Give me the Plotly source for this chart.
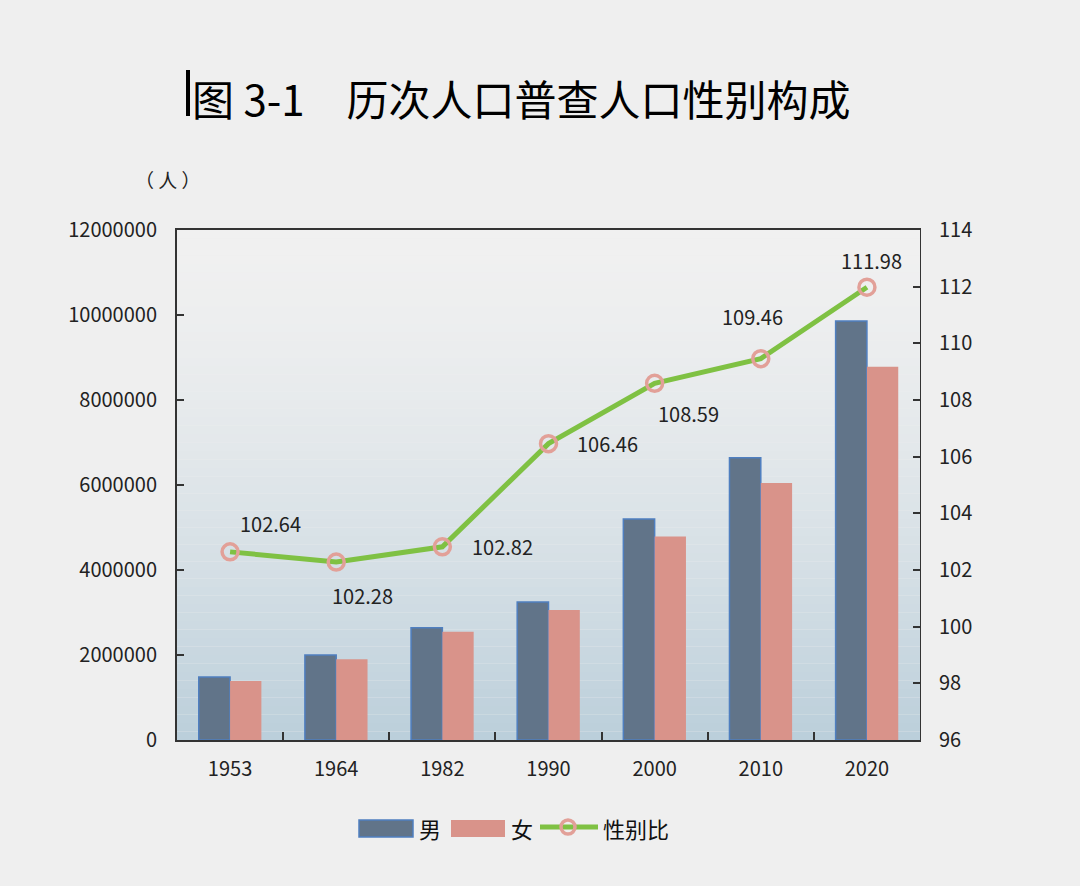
import plotly.graph_objects as go

years = ["1953", "1964", "1982", "1990", "2000", "2010", "2020"]
male = [1480000, 2000000, 2640000, 3250000, 5200000, 6640000, 9860000]
female = [1390000, 1900000, 2550000, 3060000, 4790000, 6050000, 8780000]
sex_ratio = [102.64, 102.28, 102.82, 106.46, 108.59, 109.46, 111.98]
series_names = ["男", "女", "性别比"]
label_offsets = [(40, 28), (26, -33), (60, 0), (59, 0), (34, -30), (-8, 42), (5, 27)]

FONT = "Noto Sans CJK SC"
MALE_C = "#617489"
MALE_EDGE = "#4f7fc0"
FEMALE_C = "#d9938a"
LINE_C = "#7fc143"
MARK_C = "#e2a098"

# plot area in px
L, R, T, B = 177, 920, 230, 740
def px(x):
    return (x - L) / (R - L)
def py(y):
    return (B - y) / (B - T)

fig = go.Figure()
fig.add_trace(go.Bar(x=years, y=male, name=series_names[0], marker=dict(color=MALE_C, line=dict(color=MALE_EDGE, width=1.5))))
fig.add_trace(go.Bar(x=years, y=female, name=series_names[1], marker=dict(color=FEMALE_C, line=dict(width=0))))
fig.add_trace(go.Scatter(x=years, y=sex_ratio, name=series_names[2], yaxis="y2", mode="lines+markers",
                         line=dict(color=LINE_C, width=5),
                         marker=dict(symbol="circle-open", size=16, color=MARK_C, line=dict(width=3.5, color=MARK_C))))

for i, (v, (dx, dy)) in enumerate(zip(sex_ratio, label_offsets)):
    fig.add_annotation(x=i, y=v, xref="x", yref="y2", text=f"{v:.2f}", showarrow=False,
                       xshift=dx, yshift=dy, font=dict(family=FONT, size=20, color="#222"))

# gradient background bands
n = 60
top = (240, 240, 240)
bot = (186, 206, 218)
for i in range(n):
    t = i / n
    f = t ** 1.6
    c = tuple(int(round(top[k] + (bot[k] - top[k]) * f)) for k in range(3))
    fig.add_shape(type="rect", xref="paper", yref="paper", x0=0, x1=1,
                  y0=1 - (i + 1) / n, y1=1 - i / n, fillcolor="rgb(%d,%d,%d)" % c,
                  line=dict(width=0), layer="below")

# title marker bar
fig.add_shape(type="line", xref="paper", yref="paper", x0=px(188), x1=px(188),
              y0=py(70), y1=py(116), line=dict(color="black", width=4))

fig.add_annotation(xref="paper", yref="paper", x=px(190), y=py(97), xanchor="left", yanchor="middle",
                   text="图 3-1　历次人口普查人口性别构成", showarrow=False,
                   font=dict(family=FONT, size=42, color="black"))
fig.add_annotation(xref="paper", yref="paper", x=px(168), y=py(180), xanchor="center", yanchor="middle",
                   text="（ 人 ）", showarrow=False, font=dict(family=FONT, size=19, color="#222"))

# manual legend
ly = py(828)
fig.add_shape(type="rect", xref="paper", yref="paper", x0=px(359), x1=px(413), y0=py(837), y1=py(820),
              fillcolor=MALE_C, line=dict(color=MALE_EDGE, width=1.5))
fig.add_annotation(xref="paper", yref="paper", x=px(417), y=ly, xanchor="left", yanchor="middle", showarrow=False,
                   text=series_names[0], font=dict(family=FONT, size=22, color="#111"))
fig.add_shape(type="rect", xref="paper", yref="paper", x0=px(451), x1=px(505), y0=py(837), y1=py(820),
              fillcolor=FEMALE_C, line=dict(width=0))
fig.add_annotation(xref="paper", yref="paper", x=px(509), y=ly, xanchor="left", yanchor="middle", showarrow=False,
                   text=series_names[1], font=dict(family=FONT, size=22, color="#111"))
fig.add_shape(type="line", xref="paper", yref="paper", x0=px(540), x1=px(598), y0=py(827), y1=py(827),
              line=dict(color=LINE_C, width=5))
fig.add_shape(type="circle", xref="paper", yref="paper", xsizemode="pixel", ysizemode="pixel",
              xanchor=px(568), yanchor=py(827), x0=-7, x1=7, y0=-7, y1=7,
              line=dict(color=MARK_C, width=3.5), fillcolor="rgba(0,0,0,0)")
fig.add_annotation(xref="paper", yref="paper", x=px(601), y=ly, xanchor="left", yanchor="middle", showarrow=False,
                   text=series_names[2], font=dict(family=FONT, size=22, color="#111"))

fig.update_layout(
    width=1080, height=886,
    margin=dict(l=L, r=1080 - R, t=T, b=886 - B),
    paper_bgcolor="#efefef", plot_bgcolor="#efefef",
    barmode="group", bargap=0.41, bargroupgap=0,
    font=dict(family=FONT, color="#222"),
    showlegend=False,
    xaxis=dict(type="category", range=[-0.5, 6.5], tickson="boundaries", ticks="inside", ticklen=8, tickcolor="#333",
               tickwidth=2, showline=True, linecolor="#333", linewidth=2, mirror=True, tickangle=0,
               tickfont=dict(family=FONT, size=20, color="#222"), showgrid=False, ticklabelstandoff=10),
    yaxis=dict(range=[0, 12000000], dtick=2000000, tickformat="d", ticks="inside", ticklen=7, tickcolor="#333",
               tickwidth=2, showline=True, linecolor="#333", linewidth=2, showgrid=False, zeroline=False,
               tickfont=dict(family=FONT, size=20, color="#222"), ticklabelstandoff=14),
    yaxis2=dict(range=[96, 114], dtick=2, overlaying="y", side="right", ticks="inside", ticklen=7, tickcolor="#333",
                tickwidth=2, showline=True, linecolor="#333", linewidth=1, showgrid=False, zeroline=False,
                tickfont=dict(family=FONT, size=20, color="#222"), ticklabelstandoff=14),
)

fig.write_html("out.html", config={"displayModeBar": False},
               post_script="document.body.style.margin='0';")
